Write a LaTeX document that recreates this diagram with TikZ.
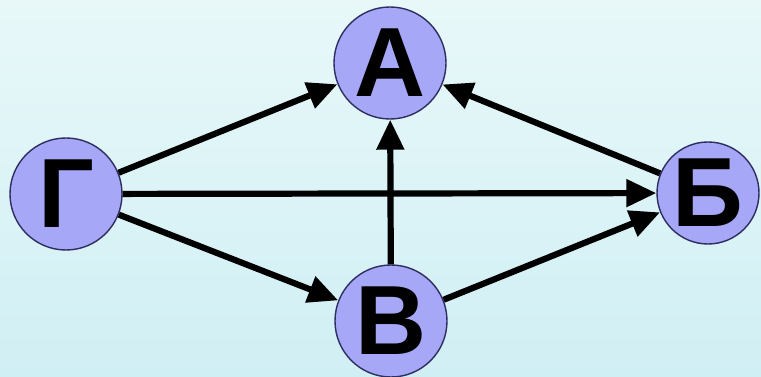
\documentclass[tikz,border=0pt]{standalone}
\usepackage{fontspec}
\newfontfamily\labfont{Liberation Sans}
\usetikzlibrary{arrows.meta}
\definecolor{bgtop}{HTML}{E8F8F9}
\definecolor{bgbot}{HTML}{D0EFF4}
\definecolor{nodefill}{HTML}{A7A7F7}
\definecolor{nodeline}{HTML}{2E2E60}
\tikzset{
  vert/.style={circle, draw=nodeline, line width=1.2pt, fill=nodefill, inner sep=0pt,
    minimum size=3.36cm, font=\labfont\bfseries\fontsize{84}{84}\selectfont},
  smallvert/.style={vert, minimum size=3.06cm},
  edge/.style={line width=5.3pt, draw=black, -{Triangle[length=0.9cm,width=0.8cm]}}
}
\begin{document}
\begin{tikzpicture}[x=0.03cm, y=-0.03cm]
  \useasboundingbox (0,0) rectangle (761,377);
  \shade[top color=bgtop, bottom color=bgbot] (0,0) rectangle (761,377);
  \node[vert] (A) at (390,63) {А};
  \node[vert] (G) at (66,194) {Г};
  \node[smallvert] (B) at (708,193) {Б};
  \node[vert] (V) at (391,321) {В};
  \draw[edge] (G) -- (A);
  \draw[edge] (G) -- (B);
  \draw[edge] (G) -- (V);
  \draw[edge] (V) -- (A);
  \draw[edge] (V) -- (B);
  \draw[edge] (B) -- (A);
\end{tikzpicture}
\end{document}
